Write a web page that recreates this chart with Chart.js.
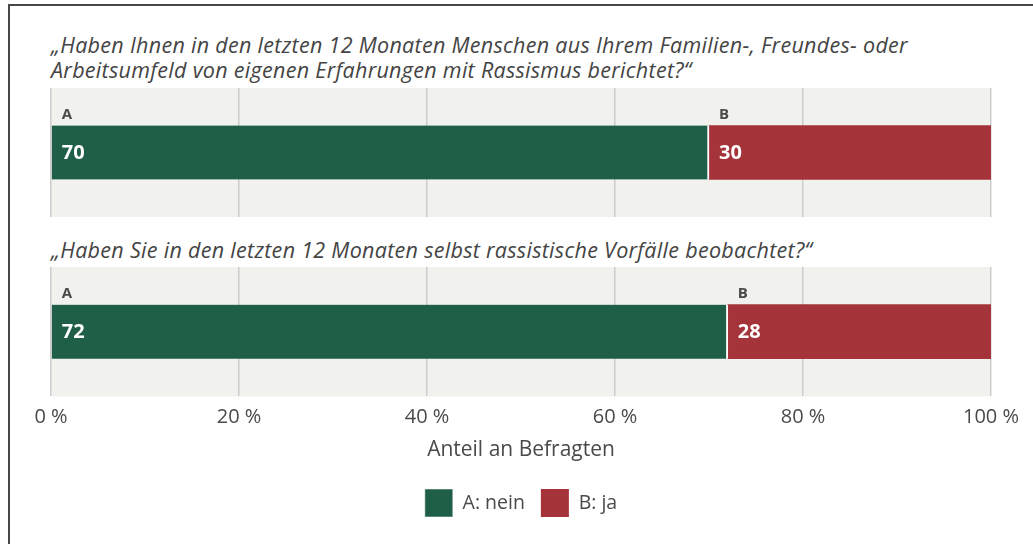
<!DOCTYPE html>
<html lang="de">
<head>
<meta charset="utf-8">
<script src="https://cdn.jsdelivr.net/npm/chart.js@4.4.1/dist/chart.umd.min.js"></script>
<style>
  html, body { margin: 0; padding: 0; background: #fff; }
  body { width: 1033px; height: 544px; position: relative; overflow: hidden; font-family: "Open Sans", sans-serif; }
  .frame { position: absolute; left: 8px; top: 4px; width: 1100px; height: 600px;
           border-left: 2px solid #474747; border-top: 2px solid #474747; }
  .question { position: absolute; left: 51px; font-style: italic; font-size: 21.5px; line-height: 25px;
              color: #444; white-space: pre-line; letter-spacing: 0.3px; }
  .panel { position: absolute; left: 0; width: 1033px; }
</style>
</head>
<body>
<div class="frame"></div>
<div class="question" id="q1" style="top:32px"></div>
<div class="panel" style="top:88px;height:129px"><canvas id="chart1"></canvas></div>
<div class="question" id="q2" style="top:237px"></div>
<div class="panel" style="top:267px;height:260px"><canvas id="chart2"></canvas></div>

<script>
// ── DATA ────────────────────────────────────────────
const questions = [
  '„Haben Ihnen in den letzten 12 Monaten Menschen aus Ihrem Familien-, Freundes- oder\nArbeitsumfeld von eigenen Erfahrungen mit Rassismus berichtet?“',
  '„Haben Sie in den letzten 12 Monaten selbst rassistische Vorfälle beobachtet?“'
];
const seriesKeys = ['A', 'B'];
const seriesNames = ['A: nein', 'B: ja'];
const neinValues = [70, 72];
const jaValues = [30, 28];
const xTicks = [0, 20, 40, 60, 80, 100];
const axisTitle = 'Anteil an Befragten';

// ── STYLE ───────────────────────────────────────────
const FONT = 'Open Sans';
const GREEN = '#1f5f47';
const RED = '#a5333a';
const PANEL_BG = '#f1f2ee';
const GRID = '#cdcdcd';
const TEXT = '#4a4a4a';

document.getElementById('q1').textContent = questions[0];
document.getElementById('q2').textContent = questions[1];

// grey panel behind the bars
const panelBg = {
  id: 'panelBg',
  beforeDraw(chart) {
    const { ctx, chartArea: a } = chart;
    ctx.save();
    ctx.fillStyle = PANEL_BG;
    ctx.fillRect(a.left, a.top, a.right - a.left, a.bottom - a.top);
    ctx.restore();
  }
};

// "A"/"B" above each segment, value inside
const segLabels = {
  id: 'segLabels',
  afterDatasetsDraw(chart) {
    const { ctx } = chart;
    ctx.save();
    ctx.textAlign = 'left';
    chart.data.datasets.forEach((ds, i) => {
      const meta = chart.getDatasetMeta(i);
      meta.data.forEach((bar, j) => {
        const start = Math.min(bar.base, bar.x);
        ctx.fillStyle = TEXT;
        ctx.font = `bold 15px "${FONT}"`;
        ctx.textBaseline = 'alphabetic';
        ctx.fillText(seriesKeys[i], start + 10, bar.y - bar.height / 2 - 7);
        ctx.fillStyle = '#fff';
        ctx.font = `bold 20px "${FONT}"`;
        ctx.textBaseline = 'middle';
        ctx.fillText(String(ds.data[j]), start + 10, bar.y + 1);
      });
    });
    ctx.restore();
  }
};

function makeChart(id, idx, withAxis) {
  return new Chart(document.getElementById(id), {
    type: 'bar',
    data: {
      labels: [questions[idx]],
      datasets: [
        { label: seriesNames[0], data: [neinValues[idx]], backgroundColor: GREEN,
          borderColor: '#fff', borderWidth: { top: 0, bottom: 0, left: 0, right: 2 }, borderSkipped: false },
        { label: seriesNames[1], data: [jaValues[idx]], backgroundColor: RED, borderWidth: 0 }
      ]
    },
    options: {
      indexAxis: 'y',
      responsive: true,
      maintainAspectRatio: false,
      animation: false,
      barThickness: 54,
      layout: { padding: { left: 51, right: 42, top: 0, bottom: 0 } },
      plugins: {
        legend: {
          display: withAxis,
          position: 'bottom',
          labels: { boxWidth: 28, boxHeight: 28, padding: 16, color: TEXT, font: { family: FONT, size: 19.5 } }
        },
        tooltip: { enabled: false }
      },
      scales: {
        x: {
          stacked: true, min: 0, max: 100,
          afterBuildTicks: s => { s.ticks = xTicks.map(v => ({ value: v })); },
          grid: { color: GRID, lineWidth: 1.5, drawTicks: false },
          border: { display: false },
          ticks: {
            display: withAxis, padding: 9, color: TEXT,
            font: { family: FONT, size: 20 },
            callback: v => v + ' %'
          },
          title: {
            display: withAxis, text: axisTitle, color: TEXT,
            font: { family: FONT, size: 21, lineHeight: 1.1 }, padding: { top: 0, bottom: 11.5 }
          }
        },
        y: { stacked: true, display: false }
      }
    },
    plugins: [panelBg, segLabels]
  });
}

makeChart('chart1', 0, false);
makeChart('chart2', 1, true);
</script>
</body>
</html>
